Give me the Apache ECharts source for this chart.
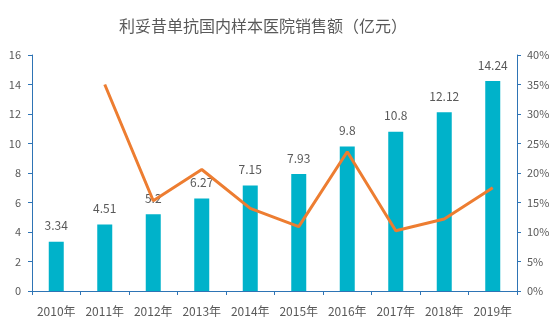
<!DOCTYPE html>
<html><head><meta charset="utf-8">
<script src="https://cdn.jsdelivr.net/npm/echarts@6/dist/echarts.min.js"></script>
<style>html,body{margin:0;padding:0;background:#fff}#c{width:558px;height:332px}</style>
</head><body><div id="c"></div>
<script>
var categories = ['2010年','2011年','2012年','2013年','2014年','2015年','2016年','2017年','2018年','2019年'];
var sales = [3.34, 4.51, 5.2, 6.27, 7.15, 7.93, 9.8, 10.8, 12.12, 14.24];
var growth = [null, 35.0, 15.3, 20.6, 14.0, 10.9, 23.6, 10.2, 12.2, 17.5];
var leftTicks = [0, 2, 4, 6, 8, 10, 12, 14, 16];
var rightTicks = [0, 5, 10, 15, 20, 25, 30, 35, 40];

var axisColor = '#2E74B5';
var textColor = '#595959';
var font = '"Microsoft YaHei","Noto Sans CJK SC",sans-serif';
var chart = echarts.init(document.getElementById('c'));
chart.setOption({
  animation: false,
  title: {
    text: '利妥昔单抗国内样本医院销售额（亿元）',
    left: 258, top: 13, textAlign: 'center',
    textStyle: {fontSize: 16, fontWeight: 'normal', color: textColor, fontFamily: font}
  },
  grid: {left: 32, right: 41, top: 55, bottom: 41},
  xAxis: {
    type: 'category', data: categories,
    axisLine: {lineStyle: {color: axisColor, width: 1}},
    axisTick: {show: true, length: 4, lineStyle: {color: axisColor}},
    axisLabel: {color: textColor, fontSize: 12, margin: 14, interval: 0, hideOverlap: false, fontFamily: font}
  },
  yAxis: [{
    type: 'value', min: leftTicks[0], max: leftTicks[leftTicks.length-1], interval: 2,
    axisLine: {show: true, lineStyle: {color: axisColor}},
    axisTick: {show: true, length: 4, lineStyle: {color: axisColor}},
    splitLine: {show: false},
    axisLabel: {color: textColor, fontSize: 11, margin: 11, fontFamily: font}
  }, {
    type: 'value', min: rightTicks[0], max: rightTicks[rightTicks.length-1], interval: 5,
    axisLine: {show: true, lineStyle: {color: axisColor}},
    axisTick: {show: true, length: 4, lineStyle: {color: axisColor}},
    splitLine: {show: false},
    axisLabel: {color: textColor, fontSize: 11, margin: 10, formatter: '{value}%', fontFamily: font}
  }],
  series: [{
    type: 'bar', data: sales, barWidth: 15,
    itemStyle: {color: '#00B2CA'},
    label: {show: true, position: 'top', distance: 10, color: textColor, fontSize: 12, fontFamily: font}
  }, {
    type: 'line', yAxisIndex: 1, data: growth,
    symbol: 'none', lineStyle: {color: '#ED7D31', width: 3},
    itemStyle: {color: '#ED7D31'}
  }]
});
</script></body></html>
